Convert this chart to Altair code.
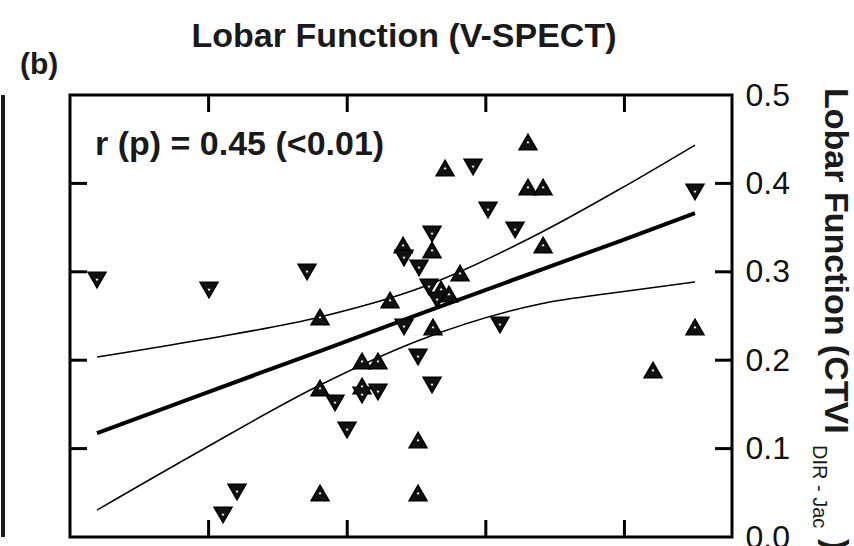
import altair as alt
import pandas as pd

# ---- data ----
UP_X = [0.1804, 0.1804, 0.1804, 0.2511, 0.2511, 0.2309, 0.2403, 0.2612, 0.2814, 0.2619,
        0.2107, 0.2222, 0.2107, 0.3304, 0.2706, 0.3304, 0.3413, 0.3413, 0.4509, 0.4206,
        0.2677, 0.2734]
UP_Y = [0.2489, 0.1686, 0.0498, 0.0498, 0.1097, 0.2681, 0.3303, 0.3247, 0.2986, 0.2376,
        0.1991, 0.1991, 0.1708, 0.4468, 0.4174, 0.3959, 0.3959, 0.3303, 0.2376, 0.1889,
        0.2805, 0.2749]
DOWN_X = [0.0195, 0.1003, 0.1710, 0.1205, 0.1104, 0.1912, 0.1999, 0.2410, 0.2511, 0.2612,
          0.2908, 0.3016, 0.3211, 0.3102, 0.4509, 0.2612, 0.2410, 0.2518, 0.2107, 0.2222,
          0.2590, 0.2648]
DOWN_Y = [0.2907, 0.2794, 0.2998, 0.0509, 0.0249, 0.1516, 0.1210, 0.2376, 0.2036, 0.1719,
          0.4186, 0.3699, 0.3473, 0.2398, 0.3903, 0.3428, 0.3156, 0.3043, 0.1606, 0.1640,
          0.2828, 0.2681]

LINE_X = [0.0195, 0.0938, 0.1804, 0.2525, 0.3391, 0.3968, 0.4509]
FIT_Y = [0.1176, 0.1606, 0.2104, 0.2523, 0.3020, 0.3348, 0.3665]
UPPER_Y = [0.2036, 0.2229, 0.2489, 0.2817, 0.3439, 0.3937, 0.4434]
LOWER_Y = [0.0305, 0.0973, 0.1719, 0.2229, 0.2636, 0.2771, 0.2885]

Y_TICKS = [0.0, 0.1, 0.2, 0.3, 0.4, 0.5]
X_TICKS = [0.1, 0.2, 0.3, 0.4]

TITLE = "Lobar Function (V-SPECT)"
PANEL = "(b)"
STAT = "r (p) = 0.45 (<0.01)"
Y_TITLE = "Lobar Function (CTVI"
Y_SUB = "DIR - Jac"
Y_CLOSE = ")"

W, H = 662, 442
FONT = "Liberation Sans, Arial, Helvetica, sans-serif"
NARROW = "Liberation Sans Narrow, Arial Narrow, Liberation Sans, Arial, sans-serif"

xscale = alt.Scale(domain=[0, 0.4776], nice=False, zero=False)
yscale = alt.Scale(domain=[0, 0.5], nice=False, zero=False)
yaxis = alt.Axis(orient="right", values=Y_TICKS, format=".1f", ticks=False, domain=False,
                 grid=False, labelFontSize=32, labelPadding=13, labelColor="#111111",
                 labelFont=NARROW, title=None, labelBound=False)


def X(field="x"):
    return alt.X(f"{field}:Q", scale=xscale, axis=None)


def Y(field="y"):
    return alt.Y(f"{field}:Q", scale=yscale, axis=yaxis)


pts = pd.DataFrame({
    "x": UP_X + DOWN_X,
    "y": UP_Y + DOWN_Y,
    "dir": ["up"] * len(UP_X) + ["down"] * len(DOWN_X),
})
shape = alt.Shape("dir:N", scale=alt.Scale(domain=["up", "down"],
                                          range=["triangle-up", "triangle-down"]), legend=None)

lines = pd.DataFrame({
    "x": LINE_X * 3,
    "y": FIT_Y + UPPER_Y + LOWER_Y,
    "band": ["fit"] * len(LINE_X) + ["upper"] * len(LINE_X) + ["lower"] * len(LINE_X),
})

band_lines = alt.Chart(lines).transform_filter(alt.datum.band != "fit").mark_line(
    color="black", strokeWidth=1.5, interpolate="monotone").encode(
    x=X(), y=Y(), detail="band:N", order="x:Q")
fit_line = alt.Chart(lines).transform_filter(alt.datum.band == "fit").mark_line(
    color="black", strokeWidth=4).encode(x=X(), y=Y(), order="x:Q")

points = alt.Chart(pts).mark_point(filled=True, size=320, color="#111111", opacity=1,
                                   stroke="black", strokeWidth=1.5).encode(
    x=X(), y=Y(), shape=shape)
inner = alt.Chart(pts).mark_point(filled=True, size=9, color="white", opacity=1).encode(
    x=X(), y=Y(), shape=shape)

yt = pd.DataFrame({"v": Y_TICKS[1:-1]})
xt = pd.DataFrame({"v": X_TICKS})
TL = 17
tick_l = alt.Chart(yt).mark_rule(color="black", strokeWidth=3).encode(
    y=Y("v"), x=alt.value(0), x2=alt.value(TL))
tick_r = alt.Chart(yt).mark_rule(color="black", strokeWidth=3).encode(
    y=Y("v"), x=alt.value(W - TL), x2=alt.value(W))
tick_t = alt.Chart(xt).mark_rule(color="black", strokeWidth=3).encode(
    x=X("v"), y=alt.value(0), y2=alt.value(TL))
tick_b = alt.Chart(xt).mark_rule(color="black", strokeWidth=3).encode(
    x=X("v"), y=alt.value(H - TL), y2=alt.value(H))

left_rule = alt.Chart(pd.DataFrame({"t": [0]})).mark_rule(color="#1a1a1a", strokeWidth=4).encode(
    x=alt.value(-67), y=alt.value(0), y2=alt.value(H))


def label(text, x, y, **kw):
    return alt.Chart(pd.DataFrame({"t": [text]})).mark_text(**kw).encode(
        text="t:N", x=alt.value(x), y=alt.value(y))


title = label(TITLE, 334, -48, font=FONT, fontSize=34, fontWeight="bold", color="#1a1a1a",
              align="center", baseline="alphabetic")
panel = label(PANEL, -50, -21, font=FONT, fontSize=30, fontWeight="bold", color="#1a1a1a",
              align="left", baseline="alphabetic")
stat = label(STAT, 25, 60, font=FONT, fontSize=34, fontWeight="bold", color="#1a1a1a",
             align="left", baseline="alphabetic")
ytitle = label(Y_TITLE, 755, -7, font=FONT, fontSize=34, fontWeight="bold", color="#1a1a1a",
               align="left", baseline="alphabetic", angle=90)
ysub = label(Y_SUB, 743, 350, font=FONT, fontSize=20, color="#1a1a1a",
             align="left", baseline="alphabetic", angle=90)
yclose = label(Y_CLOSE, 755, 444, font=FONT, fontSize=34, fontWeight="bold", color="#1a1a1a",
               align="left", baseline="alphabetic", angle=90)

chart = alt.layer(
    band_lines, fit_line, points, inner,
    tick_l, tick_r, tick_t, tick_b, left_rule,
    title, panel, stat, ytitle, ysub, yclose,
).properties(
    width=W, height=H,
    autosize=alt.AutoSizeParams(type="none"),
    padding={"left": 70, "top": 95, "right": 122, "bottom": 9},
    background="white",
).configure_view(stroke="black", strokeWidth=3)

chart.save("out.html", embed_options={"renderer": "svg", "actions": False})
